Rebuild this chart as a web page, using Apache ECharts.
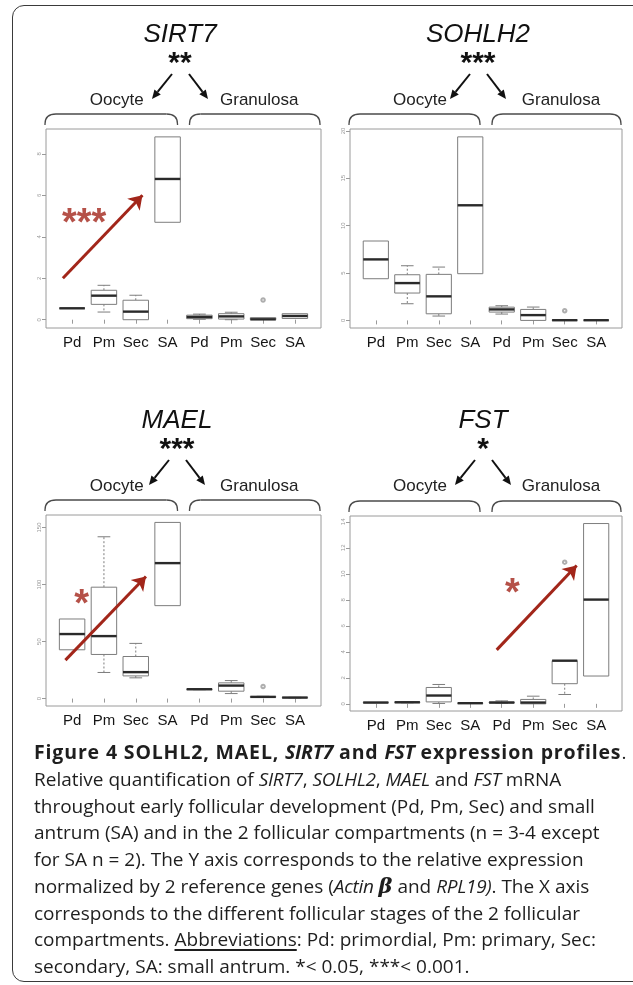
<!DOCTYPE html>
<html><head><meta charset="utf-8">
<script src="https://cdn.jsdelivr.net/npm/echarts@6/dist/echarts.min.js"></script>
<style>
html,body{margin:0;padding:0;background:#fff;width:633px;height:985px;overflow:hidden;position:relative;}
#frame{position:absolute;left:12px;top:5px;width:680px;height:975px;border:1.5px solid #3a3a3a;border-radius:12px;}
#chart{position:absolute;left:0;top:0;width:633px;height:745px;}
#cap{position:absolute;left:34px;top:739px;width:620px;font-family:"Open Sans",sans-serif;font-size:19px;line-height:26.75px;color:#1e1e1e;white-space:nowrap;}
#cap b{font-weight:700;font-size:19.5px;letter-spacing:0.85px;}
#cap i{letter-spacing:-0.3px;}
#cap u{text-decoration-thickness:2px;text-underline-offset:3px;}
.beta{font-family:"DejaVu Serif",serif;font-style:italic;font-weight:bold;font-size:21px;}
</style></head>
<body>
<div id="frame"></div>
<div id="chart"></div>
<div id="cap">
<b>Figure 4 SOLHL2, MAEL, <i>SIRT7</i> and <i>FST</i> expression profiles</b>.<br>
Relative quantification of <i>SIRT7</i>, <i>SOLHL2</i>, <i>MAEL</i> and <i>FST</i> mRNA<br>
throughout early follicular development (Pd, Pm, Sec) and small<br>
antrum (SA) and in the 2 follicular compartments (n = 3-4 except<br>
for SA n = 2). The Y axis corresponds to the relative expression<br>
normalized by 2 reference genes (<i>Actin</i> <span class="beta">β</span> and <i>RPL19)</i>. The X axis<br>
corresponds to the different follicular stages of the 2 follicular<br>
compartments. <u>Abbreviations</u>: Pd: primordial, Pm: primary, Sec:<br>
secondary, SA: small antrum. *&lt; 0.05, ***&lt; 0.001.
</div>
<script>
// ---------------- DATA ----------------
const categories = ['Pd','Pm','Sec','SA','Pd','Pm','Sec','SA'];
const genes = ['SIRT7','SOHLH2','MAEL','FST'];
const geneStars = ['**','***','***','*'];
// each row: [min, Q1, median, Q3, max]
const sirt7Boxes = [
  [0.55,0.55,0.55,0.55,0.55],
  [0.37,0.74,1.16,1.42,1.66],
  [0.00,0.00,0.39,0.94,1.18],
  [4.70,4.70,6.79,8.82,8.82],
  [0.02,0.05,0.13,0.22,0.27],
  [0.00,0.03,0.16,0.29,0.36],
  [0.00,0.00,0.02,0.10,0.10],
  [0.06,0.06,0.18,0.29,0.29]
];
const sohlh2Boxes = [
  [4.40,4.40,6.44,8.38,8.38],
  [1.76,2.89,3.94,4.82,5.77],
  [0.46,0.70,2.54,4.86,5.63],
  [4.93,4.93,12.15,19.37,19.37],
  [0.67,0.88,1.16,1.40,1.55],
  [0.00,0.00,0.56,1.16,1.41],
  [0.00,0.00,0.02,0.06,0.06],
  [0.01,0.01,0.02,0.03,0.03]
];
const maelBoxes = [
  [42.8,42.8,56.6,69.8,69.8],
  [22.9,38.7,54.8,97.7,141.9],
  [18.2,19.9,23.2,36.9,48.4],
  [81.5,81.5,118.8,154.5,154.5],
  [7.8,7.9,8.2,8.4,8.5],
  [4.4,6.5,11.4,13.8,15.8],
  [1.0,1.2,1.5,1.8,2.0],
  [0.6,0.7,0.9,1.0,1.1]
];
const fstBoxes = [
  [0.08,0.08,0.10,0.12,0.12],
  [0.08,0.09,0.12,0.15,0.16],
  [0.03,0.15,0.64,1.26,1.49],
  [0.03,0.03,0.05,0.07,0.07],
  [0.05,0.07,0.10,0.14,0.23],
  [0.00,0.00,0.10,0.34,0.59],
  [0.72,1.55,3.32,3.32,3.32],
  [2.14,2.14,8.02,13.87,13.87]
];
// outliers: [category position (1-8), value]
const sirt7Outliers = [[7,0.95]];
const sohlh2Outliers = [[7,1.02]];
const maelOutliers = [[7,10.6]];
const fstOutliers = [[7,10.9]];
// y tick labels
const sirt7Ticks = [0,2,4,6,8];
const sohlh2Ticks = [0,5,10,15,20];
const maelTicks = [0,50,100,150];
const fstTicks = [0,2,4,6,8,10,12,14];
// red trend arrows (start, end) and significance labels
const sirt7Trend = [[0.71,2.0],[3.21,6.0]];
const maelTrend = [[0.79,33.7],[3.32,107]];
const fstTrend = [[4.84,4.15],[7.38,10.64]];
const sirt7Sig = {pos:[1.38,5.0], text:'***'};
const maelSig = {pos:[1.3,89], text:'*'};
const fstSig = {pos:[5.34,9.0], text:'*'};

// ---------------- LAYOUT ----------------
const panels = [
  {boxes:sirt7Boxes, out:sirt7Outliers, ticks:sirt7Ticks, ymin:-0.4, ymax:9.2, grid:{left:46,top:129,width:275,height:199}, trend:sirt7Trend, sig:sirt7Sig, cx:180, ty:22},
  {boxes:sohlh2Boxes, out:sohlh2Outliers, ticks:sohlh2Ticks, ymin:-0.8, ymax:20.2, grid:{left:350,top:129,width:272,height:199}, trend:null, sig:null, cx:478, ty:22},
  {boxes:maelBoxes, out:maelOutliers, ticks:maelTicks, ymin:-6.5, ymax:161, grid:{left:46,top:515,width:275,height:191}, trend:maelTrend, sig:maelSig, cx:177, ty:408},
  {boxes:fstBoxes, out:fstOutliers, ticks:fstTicks, ymin:-0.55, ymax:14.45, grid:{left:350,top:516,width:272,height:195}, trend:fstTrend, sig:fstSig, cx:483, ty:408}
];
const catPos = categories.map((c,i)=>i+1);
const RED = '#a2261a';
const BOXC = '#7d7d7d';

function boxItem(params, api){
  const x = api.value(0);
  const v = [1,2,3,4,5].map(d=>api.value(d));
  const w = api.size([0.8,0])[0];
  const cx = api.coord([x, v[2]])[0];
  const y = v.map(val=>api.coord([x,val])[1]);
  const l = cx - w/2, r = cx + w/2, cap = w/4;
  const ch = [];
  const dash = {stroke:BOXC, lineWidth:1, lineDash:[2,2]};
  const solid = {stroke:BOXC, lineWidth:1};
  if (v[4] > v[3]) {
    ch.push({type:'line', shape:{x1:cx,y1:y[3],x2:cx,y2:y[4]}, style:dash});
    ch.push({type:'line', shape:{x1:cx-cap,y1:y[4],x2:cx+cap,y2:y[4]}, style:solid});
  }
  if (v[0] < v[1]) {
    ch.push({type:'line', shape:{x1:cx,y1:y[1],x2:cx,y2:y[0]}, style:dash});
    ch.push({type:'line', shape:{x1:cx-cap,y1:y[0],x2:cx+cap,y2:y[0]}, style:solid});
  }
  ch.push({type:'rect', shape:{x:l,y:y[3],width:w,height:y[1]-y[3]}, style:{fill:'#fff',stroke:BOXC,lineWidth:1}});
  ch.push({type:'line', shape:{x1:l,y1:y[2],x2:r,y2:y[2]}, style:{stroke:'#2a2a2a',lineWidth:2.4}});
  return {type:'group', children:ch};
}

function arrow(x1,y1,x2,y2,color,lw,head){
  const a = Math.atan2(y2-y1,x2-x1);
  const hx = x2 - head*Math.cos(a), hy = y2 - head*Math.sin(a);
  const px = Math.sin(a)*head*0.45, py = -Math.cos(a)*head*0.45;
  return {type:'group', children:[
    {type:'line', shape:{x1:x1,y1:y1,x2:hx,y2:hy}, style:{stroke:color,lineWidth:lw}},
    {type:'polygon', shape:{points:[[x2,y2],[hx+px,hy+py],[hx-px,hy-py]]}, style:{fill:color}}
  ]};
}
function bracket(x1,x2,yt,yb){
  const r = 11;
  const st = {stroke:'#4a4a4a', lineWidth:1.3, fill:null};
  return {type:'group', children:[
    {type:'line', shape:{x1:x1,y1:yb,x2:x1,y2:yt+r*0.9}, style:st},
    {type:'bezierCurve', shape:{x1:x1,y1:yt+r*0.9,cpx1:x1,cpy1:yt,x2:x1+r,y2:yt}, style:st},
    {type:'line', shape:{x1:x1+r,y1:yt,x2:x2-r,y2:yt}, style:st},
    {type:'bezierCurve', shape:{x1:x2-r,y1:yt,cpx1:x2,cpy1:yt,x2:x2,y2:yt+r*0.9}, style:st},
    {type:'line', shape:{x1:x2,y1:yt+r*0.9,x2:x2,y2:yb}, style:st}
  ]};
}

const grid=[], xAxis=[], yAxis=[], series=[], graphic=[];
panels.forEach((p,i)=>{
  grid.push(Object.assign({show:true, borderColor:'#9a9a9a', borderWidth:1, backgroundColor:'transparent'}, p.grid));
  xAxis.push({gridIndex:i, type:'value', min:0.18, max:8.82,
    axisLine:{show:false}, splitLine:{show:false},
    axisTick:{show:true, customValues:catPos, length:4, lineStyle:{color:'#9a9a9a'}},
    axisLabel:{customValues:catPos, formatter:(v)=>categories[Math.round(v)-1], fontSize:15, color:'#151515', margin:7, fontFamily:'Liberation Sans'}});
  yAxis.push({gridIndex:i, type:'value', min:p.ymin, max:p.ymax,
    axisLine:{show:false}, splitLine:{show:false},
    axisTick:{show:true, customValues:p.ticks, length:4, lineStyle:{color:'#9a9a9a'}},
    axisLabel:{customValues:p.ticks, rotate:90, fontSize:6, color:'#9a9a9a', margin:4, fontFamily:'Liberation Sans'}});
  series.push({type:'custom', xAxisIndex:i, yAxisIndex:i, renderItem:boxItem, clip:false,
    encode:{x:0, y:[1,2,3,4,5]}, data:p.boxes.map((b,k)=>[k+1].concat(b)), silent:true, animation:false});
  series.push({type:'scatter', xAxisIndex:i, yAxisIndex:i, data:p.out, symbol:'emptyCircle', symbolSize:3.5,
    itemStyle:{color:'#9a9a9a', borderWidth:1}, silent:true, animation:false});
  if (p.trend) {
    series.push({type:'lines', coordinateSystem:'cartesian2d', xAxisIndex:i, yAxisIndex:i,
      data:[{coords:p.trend}], symbol:['none','arrow'], symbolSize:[0,13],
      lineStyle:{color:RED, width:3, opacity:1}, silent:true, animation:false, z:5});
  }
  if (p.sig) {
    series.push({type:'scatter', xAxisIndex:i, yAxisIndex:i, data:[p.sig.pos], symbolSize:1,
      itemStyle:{color:'rgba(0,0,0,0)'}, silent:true, animation:false, z:6,
      label:{show:true, position:'inside', formatter:p.sig.text, color:RED, textBorderWidth:0, fontSize:38, fontWeight:'bold', fontFamily:'Liberation Sans', offset:[0,8]}});
  }
  // header
  const g = p.grid;
  const gl = g.left, gr = g.left + g.width;
  graphic.push({type:'text', x:p.cx, y:p.ty, style:{text:genes[i], fontSize:26, fontStyle:'italic', fontFamily:'Liberation Sans', fill:'#111', align:'center', verticalAlign:'top'}});
  graphic.push({type:'text', x:p.cx, y:p.ty+27, style:{text:geneStars[i], fontSize:30, fontWeight:'bold', fontFamily:'Liberation Sans', fill:'#111', align:'center', verticalAlign:'top'}});
  const ay = p.ty + 52;
  graphic.push(arrow(p.cx-8, ay, p.cx-28, ay+25, '#111', 2, 9));
  graphic.push(arrow(p.cx+9, ay, p.cx+28, ay+25, '#111', 2, 9));
  const split = gl + (4.5-0.18)/8.64*g.width;
  graphic.push({type:'text', x:(gl+split)/2 + 2, y:ay+26, style:{text:'Oocyte', fontSize:17, fontFamily:'Liberation Sans', fill:'#222', align:'center', verticalAlign:'middle'}});
  graphic.push({type:'text', x:(split+gr)/2 + 7, y:ay+26, style:{text:'Granulosa', fontSize:17, fontFamily:'Liberation Sans', fill:'#222', align:'center', verticalAlign:'middle'}});
  const bt = g.top - 15, bb = g.top - 4;
  graphic.push(bracket(gl-1, split-6, bt, bb));
  graphic.push(bracket(split+6, gr-1, bt, bb));
});

const chart = echarts.init(document.getElementById('chart'));
chart.setOption({animation:false, grid, xAxis, yAxis, series, graphic});
</script>
</body></html>
